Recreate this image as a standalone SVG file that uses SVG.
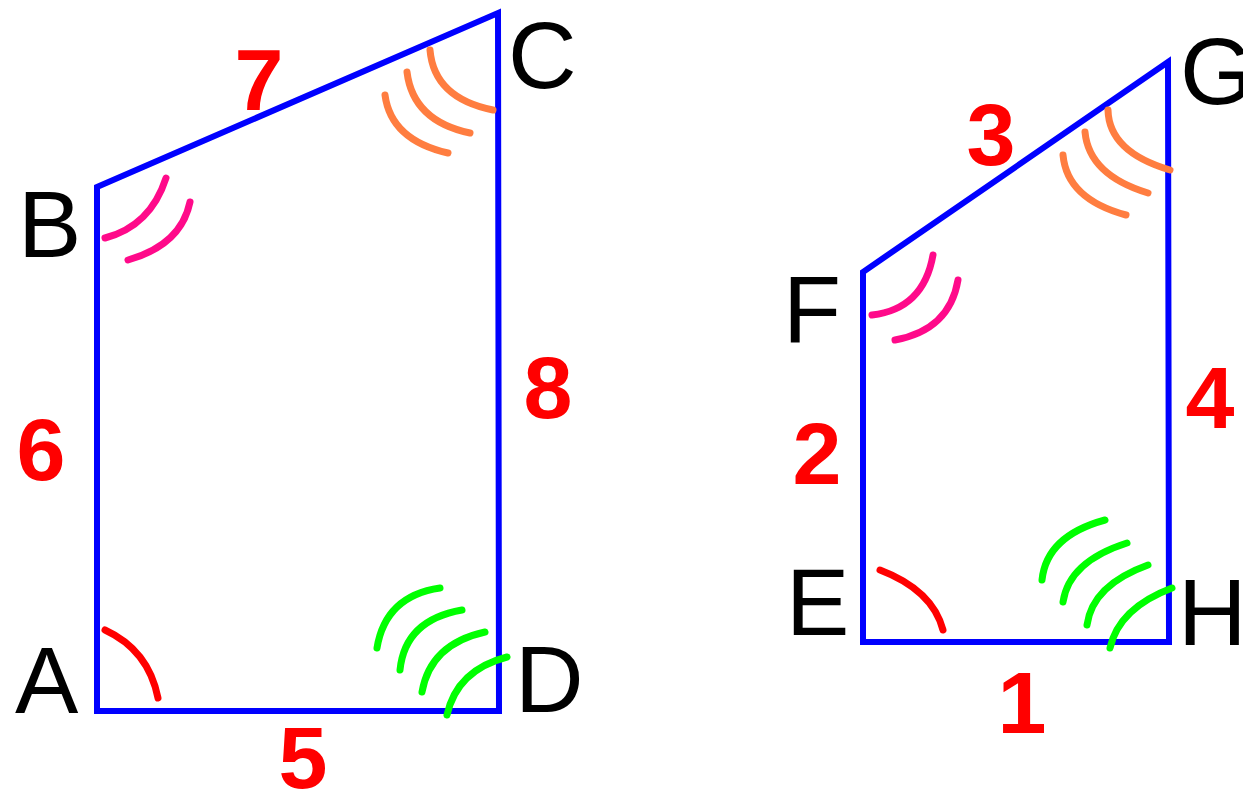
<svg xmlns="http://www.w3.org/2000/svg" width="1243" height="793" viewBox="0 0 1243 793">
<style>
.edge{fill:none;stroke:#0000ff;stroke-width:6;stroke-linejoin:miter}
.arc{fill:none;stroke-width:7;stroke-linecap:round}
.red{stroke:#ff0000}
.pink{stroke:#ff0a8a}
.orange{stroke:#ff7d40}
.green{stroke:#00ff00}
.lbl{font-family:"Liberation Sans",Arial,sans-serif;font-size:95px;fill:#000}
.num{font-family:"Liberation Sans",Arial,sans-serif;font-size:88px;font-weight:bold;fill:#ff0000;text-anchor:middle}
</style>
<rect width="1243" height="793" fill="#ffffff"/>
<g id="quad-ABCD">
  <polygon class="edge" points="97,711 97,187 498,13 499,711"/>
  <path class="arc red" d="M105,630 Q148.5,650 158,698"/>
  <path class="arc pink" d="M105,238 Q150.5,226 166,178"/>
  <path class="arc pink" d="M128,260 Q181,245 190,202"/>
  <path class="arc orange" d="M430,50 Q434,98 493,110"/>
  <path class="arc orange" d="M407,72 Q413,121 470,133"/>
  <path class="arc orange" d="M385,95 Q391,140 448,153"/>
  <path class="arc green" d="M377,648 Q385.5,596 440,588"/>
  <path class="arc green" d="M400,670 Q405,620 462,610"/>
  <path class="arc green" d="M422,692 Q430.5,644 485,632"/>
  <path class="arc green" d="M447,715 Q457,670 507,657"/>
  <text class="lbl" x="15" y="713">A</text>
  <text class="lbl" x="18" y="257">B</text>
  <text class="lbl" x="508" y="88">C</text>
  <text class="lbl" x="515" y="712">D</text>
  <text class="num" x="259" y="110">7</text>
  <text class="num" x="41" y="480">6</text>
  <text class="num" x="548" y="418">8</text>
  <text class="num" x="303" y="788">5</text>
</g>
<g id="quad-EFGH">
  <polygon class="edge" points="863,642 863,272 1168,62 1169,642"/>
  <path class="arc red" d="M880,570 Q932.5,590 943,630"/>
  <path class="arc pink" d="M872,315 Q923.5,309 933,255"/>
  <path class="arc pink" d="M895,340 Q949.5,330 958,280"/>
  <path class="arc orange" d="M1108,110 Q1109,152 1170,170"/>
  <path class="arc orange" d="M1085,132 Q1089,175 1148,193"/>
  <path class="arc orange" d="M1063,155 Q1067,199 1126,215"/>
  <path class="arc green" d="M1042,580 Q1046.5,536 1105,520"/>
  <path class="arc green" d="M1063,602 Q1069,561.5 1127,543"/>
  <path class="arc green" d="M1087,625 Q1092.5,585 1148,565"/>
  <path class="arc green" d="M1110,648 Q1119,608 1172,588"/>
  <text class="lbl" x="786" y="635">E</text>
  <text class="lbl" x="783" y="342">F</text>
  <text class="lbl" x="1180" y="104">G</text>
  <text class="lbl" x="1178" y="645">H</text>
  <text class="num" x="991" y="165">3</text>
  <text class="num" x="817" y="484">2</text>
  <text class="num" x="1210" y="428">4</text>
  <text class="num" x="1022" y="733">1</text>
</g>
</svg>
